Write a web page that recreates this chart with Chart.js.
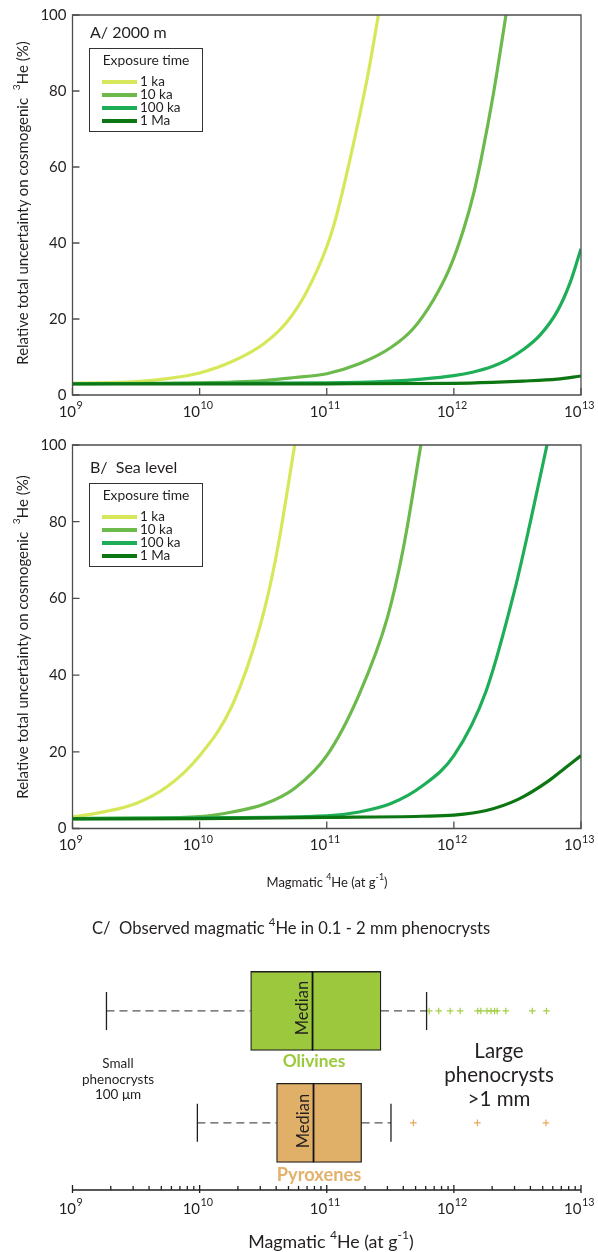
<!DOCTYPE html>
<html>
<head>
<meta charset="utf-8">
<script src="https://cdn.jsdelivr.net/npm/chart.js@4.4.1/dist/chart.umd.min.js"></script>
<style>
  body { margin: 0; background: #fff; }
  #page { position: relative; width: 598px; height: 1252px; overflow: hidden; font-family: Lato, sans-serif; color: #231f20; }
  .panel { position: absolute; left: 0; width: 598px; }
  .t { position: absolute; white-space: nowrap; line-height: 1; }
  .c { transform: translate(-50%, -50%); text-align: center; }
  .l { transform: translateY(-50%); }
  .rot { transform: translate(-50%, -50%) rotate(-90deg); }
  sup { font-size: 0.68em; line-height: 0; position: relative; top: -0.15em; vertical-align: super; }
  .legend { position: absolute; left: 89px; width: 114px; height: 84px; border: 1px solid #333; box-sizing: border-box; background: #fff; }
  .lg-title { position: absolute; left: 0; right: 0; top: 3.5px; text-align: center; font-size: 13.8px; line-height: 14px; }
  .lg-row { position: absolute; left: 0; right: 0; height: 13px; }
  .lg-sw { position: absolute; left: 12px; top: 5px; width: 35px; height: 3.5px; }
  .lg-lab { position: absolute; left: 50px; top: 0; font-size: 13.5px; line-height: 13px; }
</style>
</head>
<body>
<div id="page">
  <div class="panel" style="top:0;height:425px"><canvas id="chartA"></canvas></div>
  <div class="panel" style="top:425px;height:470px"><canvas id="chartB"></canvas></div>
  <div class="panel" style="top:895px;height:357px"><canvas id="chartC"></canvas></div>

  <div class="t l" style="left:90px;top:32px;font-size:16px">A/ 2000 m</div>
  <div class="legend" id="legendA" style="top:48px"></div>
  <div class="t rot" style="left:22px;top:203px;font-size:15px">Relative total uncertainty on cosmogenic &nbsp;<sup>3</sup>He (%)</div>

  <div class="t l" style="left:90px;top:467px;font-size:16px">B/&nbsp; Sea level</div>
  <div class="legend" id="legendB" style="top:483px"></div>
  <div class="t rot" style="left:22px;top:637px;font-size:15px">Relative total uncertainty on cosmogenic &nbsp;<sup>3</sup>He (%)</div>
  <div class="t c" style="left:327px;top:882px;font-size:13px">Magmatic <sup>4</sup>He (at g<sup>-1</sup>)</div>

  <div class="t l" style="left:92px;top:928px;font-size:16.6px">C/&nbsp; Observed magmatic <sup>4</sup>He in 0.1 - 2 mm phenocrysts</div>
  <div class="t rot" style="left:302px;top:1008px;font-size:16.5px">Median</div>
  <div class="t rot" style="left:303px;top:1121px;font-size:16.5px">Median</div>
  <div class="t c" style="left:314px;top:1061px;font-size:17.3px;font-weight:bold;color:#9aca3a">Olivines</div>
  <div class="t c" style="left:319px;top:1174px;font-size:18.3px;font-weight:bold;color:#e2b26c">Pyroxenes</div>
  <div class="t c" style="left:118px;top:1079px;font-size:13.5px;line-height:15.5px">Small<br>phenocrysts<br>100 μm</div>
  <div class="t c" style="left:499px;top:1074px;font-size:20.5px;line-height:24px">Large<br>phenocrysts<br>&gt;1 mm</div>
  <div class="t c" style="left:331px;top:1242px;font-size:17.8px">Magmatic <sup>4</sup>He (at g<sup>-1</sup>)</div>
</div>

<script>
// exposure-time series (panels A and B)
const exposureTimes = ['1 ka', '10 ka', '100 ka', '1 Ma'];
const seriesColors = ['#d6e85a', '#6cba4c', '#1eae58', '#0c7612'];

// A/ 2000 m : magmatic 4He (at/g) and relative uncertainty (%)
const heA1ka   = [1e9, 3.2e9, 5.6e9, 1e10, 1.8e10, 3.2e10, 4.8e10, 6.9e10, 1e11, 1.2e11, 1.62e11, 2.1e11, 2.55e11];
const uA1ka    = [3.1, 3.5, 4.3, 5.8, 8.8, 13.5, 19, 27, 39, 47.5, 66, 84, 100];
const heA10ka  = [1e9, 1e10, 3.2e10, 5.6e10, 1e11, 1.8e11, 3.2e11, 4.8e11, 6.9e11, 9.3e11, 1.19e12, 1.43e12, 1.66e12, 2.04e12, 2.57e12];
const uA10ka   = [3.0, 3.2, 3.8, 4.6, 5.6, 8.2, 12.5, 17.5, 25, 33.5, 43.5, 53, 63, 79, 100];
const heA100ka = [1e9, 1e11, 3.2e11, 5.6e11, 1e12, 1.4e12, 2e12, 2.6e12, 3.5e12, 4.8e12, 6.5e12, 8.2e12, 1e13];
const uA100ka  = [3.0, 3.2, 3.65, 4.2, 5.1, 6.0, 7.5, 9.2, 11.9, 15.9, 22, 29.5, 38.5];
const heA1Ma   = [1e9, 1e11, 1e12, 2e12, 3.5e12, 6.5e12, 1e13];
const uA1Ma    = [2.9, 2.95, 3.05, 3.3, 3.65, 4.2, 5.0];

// B/ Sea level
const heB1ka   = [1e9, 1.8e9, 3.2e9, 5.6e9, 1e10, 1.8e10, 3e10, 4e10, 5.6e10];
const uB1ka    = [3.0, 4.4, 6.6, 11, 19, 32, 53, 71, 100];
const heB10ka  = [1e9, 3.2e9, 1e10, 1.8e10, 3.2e10, 5.6e10, 1e11, 1.8e11, 3e11, 4e11, 5.5e11];
const uB10ka   = [2.6, 2.7, 3.1, 4.3, 6.3, 10.5, 19, 35, 55, 73, 100];
const heB100ka = [1e9, 1e10, 1e11, 1.8e11, 3.2e11, 5.6e11, 1e12, 1.8e12, 3e12, 4e12, 5.4e12];
const uB100ka  = [2.6, 2.8, 3.3, 4.3, 6.5, 11, 19, 36, 62, 80, 100];
const heB1Ma   = [1e9, 1e10, 1e11, 5.6e11, 1e12, 1.8e12, 3.2e12, 5.6e12, 7.5e12, 1e13];
const uB1Ma    = [2.5, 2.6, 2.9, 3.2, 3.5, 4.7, 7.6, 12.5, 15.8, 19];

// C/ observed magmatic 4He (box plots)
const minerals = ['Olivines', 'Pyroxenes'];
const boxColors = ['#9bc83c', '#e0b068'];
const outlierColors = ['#a3d046', '#eaa95a'];
const whiskerLow = [1.85e9, 9.6e9];
const q1 = [2.52e10, 4.03e10];
const median = [7.73e10, 7.87e10];
const q3 = [2.67e11, 1.88e11];
const whiskerHigh = [6.1e11, 3.2e11];
const olivineOutliers = [6.4e11, 7.6e11, 9.35e11, 1.12e12, 1.54e12, 1.63e12, 1.82e12, 1.96e12, 2.09e12, 2.19e12, 2.56e12, 4.14e12, 5.35e12];
const pyroxeneOutliers = [4.8e11, 1.53e12, 5.3e12];

// axis ticks
const decadeTicks = [1e9, 1e10, 1e11, 1e12, 1e13];
const minorTicks = [];
decadeTicks.slice(0, -1).forEach(d => { for (let k = 2; k <= 9; k++) minorTicks.push(k * d); });

Chart.defaults.font.family = 'Lato, sans-serif';
Chart.defaults.color = '#231f20';

// frame, inward ticks and 10^n labels
const axisDeco = {
  id: 'axisDeco',
  afterDatasetsDraw(chart, args, o) {
    const {ctx, chartArea: a} = chart;
    const x = chart.scales.x, y = chart.scales.y;
    ctx.save();
    ctx.strokeStyle = o.color;
    ctx.lineWidth = o.lineWidth;
    ctx.beginPath();
    if (o.frame) {
      ctx.rect(a.left, a.top, a.right - a.left, a.bottom - a.top);
    } else {
      ctx.moveTo(a.left, a.bottom);
      ctx.lineTo(a.right, a.bottom);
    }
    ctx.stroke();
    ctx.beginPath();
    decadeTicks.forEach(v => {
      const p = x.getPixelForValue(v);
      ctx.moveTo(p, a.bottom + o.below);
      ctx.lineTo(p, a.bottom - o.majorLen);
    });
    if (o.minor) {
      minorTicks.forEach(v => {
        const p = x.getPixelForValue(v);
        ctx.moveTo(p, a.bottom);
        ctx.lineTo(p, a.bottom - o.minorLen);
      });
    }
    if (o.frame) {
      y.ticks.forEach(t => {
        const p = y.getPixelForValue(t.value);
        ctx.moveTo(a.left, p);
        ctx.lineTo(a.left + o.majorLen, p);
      });
    }
    ctx.stroke();

    ctx.fillStyle = '#231f20';
    ctx.textBaseline = 'middle';
    ctx.textAlign = 'left';
    decadeTicks.forEach(v => {
      const p = x.getPixelForValue(v);
      const e = String(Math.round(Math.log10(v)));
      ctx.font = o.labelSize + 'px Lato';
      const w1 = ctx.measureText('10').width;
      ctx.font = (o.labelSize * 0.72) + 'px Lato';
      const w2 = ctx.measureText(e).width;
      const s = p - (w1 + w2) / 2 - 2;
      const ly = a.bottom + o.labelGap;
      ctx.font = o.labelSize + 'px Lato';
      ctx.fillText('10', s, ly);
      ctx.font = (o.labelSize * 0.72) + 'px Lato';
      ctx.fillText(e, s + w1 + 0.5, ly - o.labelSize * 0.4);
    });
    ctx.restore();
  }
};

function buildLegend(id) {
  let html = '<div class="lg-title">Exposure time</div>';
  exposureTimes.forEach((lab, i) => {
    html += '<div class="lg-row" style="top:' + (26 + i * 13) + 'px">' +
      '<span class="lg-sw" style="background:' + seriesColors[i] + '"></span>' +
      '<span class="lg-lab">' + lab + '</span></div>';
  });
  document.getElementById(id).innerHTML = html;
}

function curveChart(id, heSets, uSets, padTop, axisHeight) {
  const datasets = exposureTimes.map((lab, i) => ({
    label: lab,
    data: heSets[i].map((he, j) => ({x: he, y: uSets[i][j]})),
    borderColor: seriesColors[i],
    borderWidth: 3.2,
    pointRadius: 0,
    cubicInterpolationMode: 'monotone',
    order: exposureTimes.length - i
  }));
  return new Chart(document.getElementById(id), {
    type: 'line',
    data: {datasets: datasets},
    options: {
      responsive: true,
      maintainAspectRatio: false,
      animation: false,
      events: [],
      layout: {autoPadding: false, padding: {top: padTop, right: 17, left: 0, bottom: 0}},
      plugins: {
        legend: {display: false},
        tooltip: {enabled: false},
        axisDeco: {frame: true, color: '#4d4d4d', lineWidth: 1.3, majorLen: 7, below: 0, labelGap: 17, labelSize: 15}
      },
      scales: {
        x: {
          type: 'logarithmic', min: 1e9, max: 1e13, offset: false,
          grid: {display: false, drawTicks: false},
          border: {display: false},
          ticks: {display: false},
          afterBuildTicks: s => { s.ticks = decadeTicks.map(v => ({value: v})); },
          afterFit: s => { s.height = axisHeight; }
        },
        y: {
          min: 0, max: 100,
          grid: {display: false, drawTicks: false},
          border: {display: false},
          ticks: {stepSize: 20, padding: 6, color: '#231f20', font: {size: 15}},
          afterFit: s => { s.width = 72.5; }
        }
      }
    },
    plugins: [axisDeco]
  });
}

buildLegend('legendA');
buildLegend('legendB');

curveChart('chartA', [heA1ka, heA10ka, heA100ka, heA1Ma], [uA1ka, uA10ka, uA100ka, uA1Ma], 12, 30);
curveChart('chartB', [heB1ka, heB10ka, heB100ka, heB1Ma], [uB1ka, uB10ka, uB100ka, uB1Ma], 20, 66.5);

// box plot panel
const rowY = minerals.map((m, i) => minerals.length - i);
const boxDatasets = [{
  type: 'bar',
  indexAxis: 'y',
  data: minerals.map((m, i) => ({x: [q1[i], q3[i]], y: rowY[i]})),
  backgroundColor: boxColors,
  borderColor: '#1f1f1f',
  borderWidth: 1.3,
  borderSkipped: false,
  barThickness: 79,
  order: 2
}];
minerals.forEach((m, i) => {
  [[whiskerLow[i], q1[i]], [q3[i], whiskerHigh[i]]].forEach(seg => {
    boxDatasets.push({
      type: 'line',
      data: seg.map(v => ({x: v, y: rowY[i]})),
      borderColor: '#555',
      borderWidth: 1.3,
      borderDash: [8, 5],
      pointRadius: 0,
      order: 3
    });
  });
});
boxDatasets.push({
  type: 'scatter',
  data: minerals.flatMap((m, i) => [{x: whiskerLow[i], y: rowY[i]}, {x: whiskerHigh[i], y: rowY[i]}]),
  pointStyle: 'line', pointRotation: 90, pointRadius: 19,
  pointBorderColor: '#1f1f1f', pointBorderWidth: 1.3,
  order: 1
});
boxDatasets.push({
  type: 'scatter',
  data: minerals.map((m, i) => ({x: median[i], y: rowY[i]})),
  pointStyle: 'line', pointRotation: 90, pointRadius: 39.5,
  pointBorderColor: '#111', pointBorderWidth: 1.8,
  order: 1
});
[olivineOutliers, pyroxeneOutliers].forEach((arr, i) => {
  boxDatasets.push({
    type: 'scatter',
    data: arr.map(v => ({x: v, y: rowY[i]})),
    pointStyle: 'cross', pointRadius: 3.3,
    pointBorderColor: outlierColors[i], pointBorderWidth: 1.2,
    order: 1
  });
});

new Chart(document.getElementById('chartC'), {
  type: 'scatter',
  data: {datasets: boxDatasets},
  options: {
    responsive: true,
    maintainAspectRatio: false,
    animation: false,
    events: [],
    layout: {autoPadding: false, padding: {top: 60, right: 17, left: 72.5, bottom: 0}},
    plugins: {
      legend: {display: false},
      tooltip: {enabled: false},
      axisDeco: {frame: false, minor: true, color: '#231f20', lineWidth: 1.3, majorLen: 5, minorLen: 4, below: 3, labelGap: 19, labelSize: 15}
    },
    scales: {
      x: {
        type: 'logarithmic', min: 1e9, max: 1e13, offset: false,
        grid: {display: false, drawTicks: false},
        border: {display: false},
        ticks: {display: false},
        afterBuildTicks: s => { s.ticks = decadeTicks.map(v => ({value: v})); },
        afterFit: s => { s.height = 62; }
      },
      y: {type: 'linear', min: 0.4, max: 2.5, offset: false, display: false}
    }
  },
  plugins: [axisDeco]
});
</script>
</body>
</html>
